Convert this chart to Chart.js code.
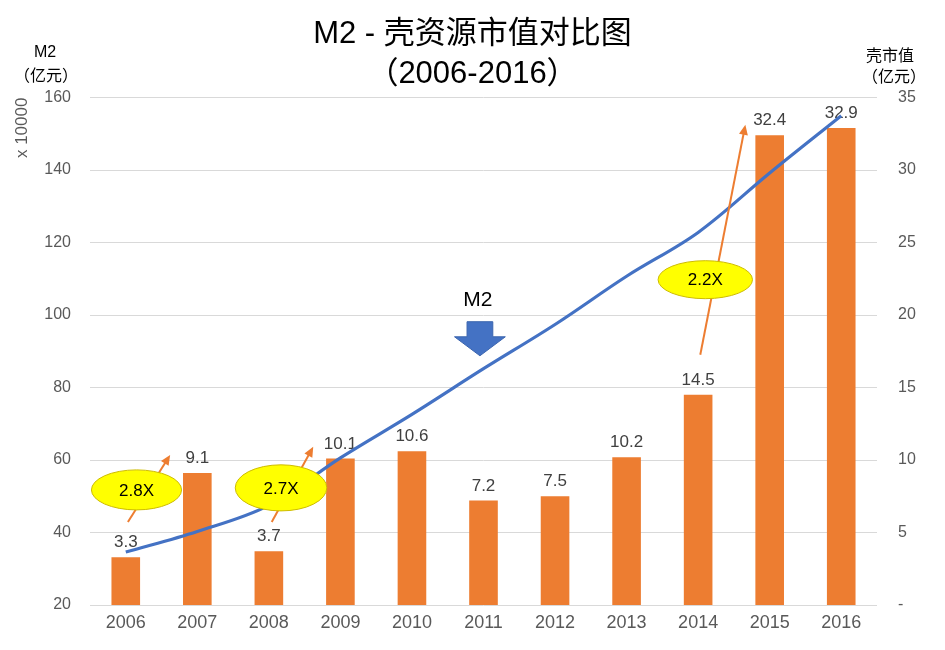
<!DOCTYPE html>
<html><head><meta charset="utf-8">
<script src="https://cdn.jsdelivr.net/npm/chart.js@4/dist/chart.umd.min.js"></script>
<style>html,body{margin:0;padding:0;background:#fff}#wrap{width:945px;height:650px}</style>
</head><body><div id="wrap"><canvas id="c" width="945" height="650"></canvas></div>
<script>
// ---- data ----
const years = ['2006','2007','2008','2009','2010','2011','2012','2013','2014','2015','2016'];
const m2Values = [34.6, 40.3, 47.5, 60.6, 72.6, 85.2, 97.4, 110.7, 122.8, 139.2, 155.0];   // M2, 亿元 x 10000 (left axis)
const shellValues = [3.3, 9.1, 3.7, 10.1, 10.6, 7.2, 7.5, 10.2, 14.5, 32.4, 32.9];          // 壳市值 (right axis)
const leftTicks = [20, 40, 60, 80, 100, 120, 140, 160];
const rightTicks = [0, 5, 10, 15, 20, 25, 30, 35];
const growthLabels = ['2.8X', '2.7X', '2.2X'];

const LATIN = '"Liberation Sans", "Noto Sans CJK SC", Arial, sans-serif';
const CJK = '"Noto Sans CJK SC", "Liberation Sans", sans-serif';

const overlay = {
  id: 'overlay',
  afterDatasetDraw(chart, args) {
    if (args.index !== 0) return;
    const ctx = chart.ctx;
    const meta = chart.getDatasetMeta(0);
    ctx.save();
    ctx.font = '17px ' + LATIN;
    ctx.fillStyle = '#404040';
    ctx.textAlign = 'center';
    ctx.textBaseline = 'alphabetic';
    meta.data.forEach((el, i) => {
      ctx.fillText(String(shellValues[i]), el.x, el.y - 10);
    });
    ctx.restore();
  },
  afterDatasetsDraw(chart) {
    const {ctx, scales: {x, y1}} = chart;
    const step = x.getPixelForValue(1) - x.getPixelForValue(0);
    const X = i => x.getPixelForValue(0) + i * step;
    const Y = v => y1.getPixelForValue(v);
    const unitY = (y1.getPixelForValue(0) - y1.getPixelForValue(1));
    ctx.save();

    function arrow(i1, v1, i2, v2) {
      const x1 = X(i1), yA = Y(v1), x2 = X(i2), yB = Y(v2);
      const ang = Math.atan2(yB - yA, x2 - x1);
      const hl = 10, hw = 4.5;
      ctx.strokeStyle = '#ED7D31';
      ctx.fillStyle = '#ED7D31';
      ctx.lineWidth = 2;
      ctx.beginPath();
      ctx.moveTo(x1, yA);
      ctx.lineTo(x2 - Math.cos(ang) * hl * 0.8, yB - Math.sin(ang) * hl * 0.8);
      ctx.stroke();
      ctx.beginPath();
      ctx.moveTo(x2, yB);
      ctx.lineTo(x2 - Math.cos(ang) * hl - Math.sin(ang) * hw, yB - Math.sin(ang) * hl + Math.cos(ang) * hw);
      ctx.lineTo(x2 - Math.cos(ang) * hl + Math.sin(ang) * hw, yB - Math.sin(ang) * hl - Math.cos(ang) * hw);
      ctx.closePath();
      ctx.fill();
    }
    function bubble(ci, cv, rxI, ryV, text) {
      const cx = X(ci), cy = Y(cv);
      ctx.beginPath();
      ctx.ellipse(cx, cy, rxI * step, ryV * unitY, 0, 0, Math.PI * 2);
      ctx.fillStyle = '#FFFF00';
      ctx.fill();
      ctx.strokeStyle = '#CDBB00';
      ctx.lineWidth = 1;
      ctx.stroke();
      ctx.fillStyle = '#000';
      ctx.font = '17px ' + LATIN;
      ctx.textAlign = 'center';
      ctx.textBaseline = 'middle';
      ctx.fillText(text, cx, cy + 1);
    }

    arrow(0.03, 5.73, 0.62, 10.35);
    arrow(2.04, 5.73, 2.62, 10.91);
    arrow(8.03, 17.26, 8.66, 33.13);
    bubble(0.15, 7.94, 0.63, 1.38, growthLabels[0]);
    bubble(2.17, 8.08, 0.64, 1.59, growthLabels[1]);
    bubble(8.10, 22.44, 0.66, 1.31, growthLabels[2]);

    // blue down arrow marking M2 line
    const bx = X(4.95), top = Y(19.54), hs = Y(18.5), tip = Y(17.19);
    const sw = 0.18 * step, hw = 0.355 * step;
    ctx.beginPath();
    ctx.moveTo(bx - sw, top);
    ctx.lineTo(bx + sw, top);
    ctx.lineTo(bx + sw, hs);
    ctx.lineTo(bx + hw, hs);
    ctx.lineTo(bx, tip);
    ctx.lineTo(bx - hw, hs);
    ctx.lineTo(bx - sw, hs);
    ctx.closePath();
    ctx.fillStyle = '#4472C4';
    ctx.fill();
    ctx.strokeStyle = '#3A64AE';
    ctx.lineWidth = 1;
    ctx.stroke();
    ctx.fillStyle = '#000';
    ctx.font = '21px ' + LATIN;
    ctx.textAlign = 'center';
    ctx.textBaseline = 'middle';
    ctx.fillText('M2', X(4.92), Y(21.05));

    // axis unit labels
    ctx.fillStyle = '#000';
    ctx.textAlign = 'center';
    ctx.font = '16px ' + LATIN;
    ctx.fillText('M2', 45, 53);
    ctx.font = '16px ' + CJK;
    ctx.fillText('（亿元）', 46, 75);
    ctx.fillText('壳市值', 890, 55);
    ctx.fillText('（亿元）', 894, 76);
    ctx.restore();
  }
};

new Chart(document.getElementById('c'), {
  data: {
    labels: years,
    datasets: [
      {
        type: 'bar',
        label: '壳市值',
        data: shellValues,
        yAxisID: 'y1',
        backgroundColor: '#ED7D31',
        barPercentage: 0.4,
        categoryPercentage: 1.0,
        order: 1
      },
      {
        type: 'line',
        label: 'M2',
        data: m2Values,
        yAxisID: 'y',
        borderColor: '#4472C4',
        borderWidth: 3.2,
        pointRadius: 0,
        tension: 0.35,
        fill: false,
        order: 0
      }
    ]
  },
  options: {
    responsive: false,
    devicePixelRatio: 1,
    animation: false,
    layout: {padding: 0},
    plugins: {
      legend: {display: false},
      tooltip: {enabled: false},
      title: {
        display: true,
        text: ['M2 - 壳资源市值对比图', '（2006-2016）'],
        color: '#000',
        font: {size: 31, weight: 'normal', family: LATIN, lineHeight: 1.3},
        padding: {top: 14, bottom: 3}
      }
    },
    scales: {
      x: {
        type: 'category',
        grid: {display: false, drawTicks: false},
        border: {display: false},
        ticks: {color: '#595959', font: {size: 18, family: LATIN}, padding: 7},
        afterFit: s => { s.height = 45; }
      },
      y: {
        position: 'left',
        min: 20, max: 160,
        afterBuildTicks: s => { s.ticks = leftTicks.map(v => ({value: v})); },
        grid: {color: '#D9D9D9', drawTicks: false, lineWidth: 1},
        border: {display: false},
        ticks: {color: '#595959', font: {size: 16, family: LATIN}, padding: 19},
        title: {display: true, text: 'x 10000', align: 'end', color: '#595959',
                font: {size: 17, family: LATIN}, padding: {top: 12, bottom: 4}},
        afterFit: s => { s.width = 90; }
      },
      y1: {
        position: 'right',
        min: 0, max: 35,
        afterBuildTicks: s => { s.ticks = rightTicks.map(v => ({value: v})); },
        grid: {display: false, drawTicks: false},
        border: {display: false},
        ticks: {color: '#595959', font: {size: 16, family: LATIN}, padding: 21,
                callback: v => v === 0 ? '-' : String(v)},
        afterFit: s => { s.width = 68; }
      }
    }
  },
  plugins: [overlay]
});
</script>
</body></html>
